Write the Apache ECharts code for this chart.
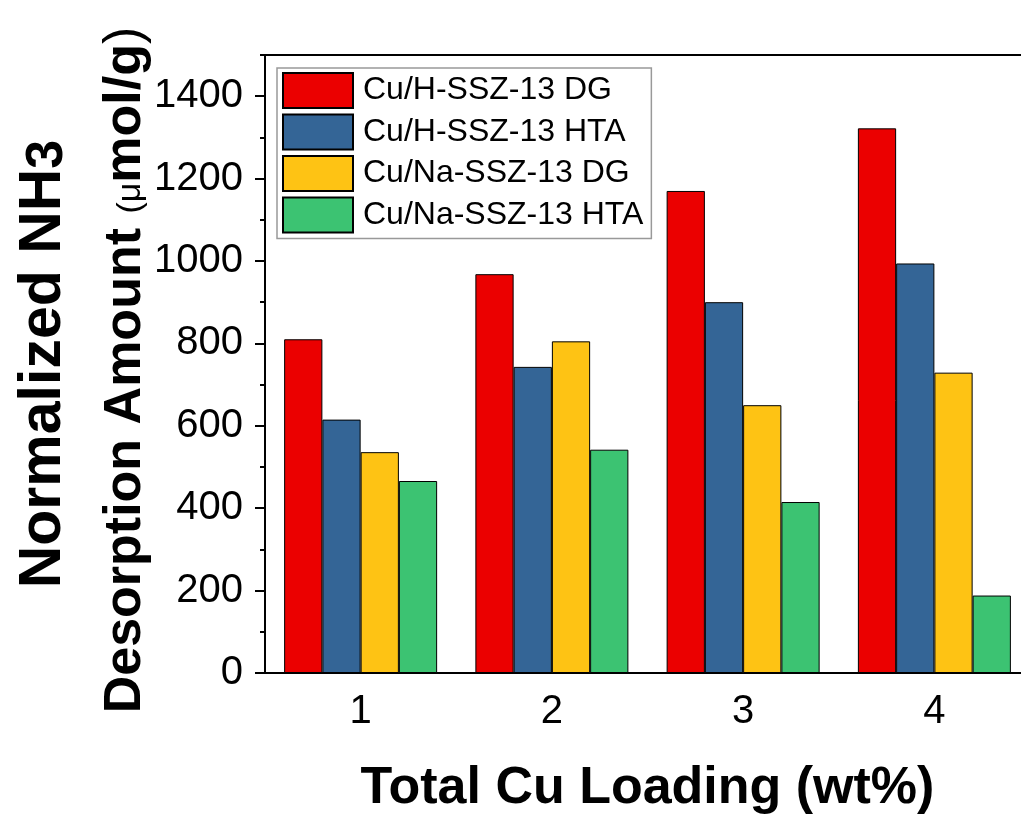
<!DOCTYPE html>
<html>
<head>
<meta charset="utf-8">
<script src="https://cdn.jsdelivr.net/npm/echarts@6/dist/echarts.min.js"></script>
<style>
  html, body { margin: 0; padding: 0; background: #fff; }
  #chart { width: 1021px; height: 814px; }
</style>
</head>
<body>
<div id="chart"></div>
<script>
// Cu loading categories (wt%)
const categories = ['1', '2', '3', '4'];
// Normalized NH3 desorption amount (μmol/g)
const cuH_DG = [810, 968, 1170, 1322];
const cuH_HTA = [615, 743, 900, 994];
const cuNa_DG = [536, 805, 650, 729];
const cuNa_HTA = [466, 542, 415, 188];
const seriesNames = ['Cu/H-SSZ-13 DG', 'Cu/H-SSZ-13 HTA', 'Cu/Na-SSZ-13 DG', 'Cu/Na-SSZ-13 HTA'];
const majorTicks = [0, 200, 400, 600, 800, 1000, 1200, 1400];

const colors = ['#EB0000', '#346596', '#FEC314', '#3CC372'];
const FONT = '"Liberation Sans", Arial, sans-serif';

const chart = echarts.init(document.getElementById('chart'), null, { renderer: 'canvas' });

function barSeries(name, data, color) {
  return {
    name: name,
    type: 'bar',
    data: data,
    xAxisIndex: 0,
    yAxisIndex: 0,
    barGap: '0%',
    barCategoryGap: '20%',
    itemStyle: { color: color, borderColor: '#000', borderWidth: 1 },
    emphasis: { disabled: true }
  };
}

chart.setOption({
  animation: false,
  backgroundColor: '#fff',
  textStyle: { fontFamily: FONT },
  grid: {
    left: 265, top: 55, bottom: 141, right: -9,
    outerBoundsMode: 'none',
    containLabel: false,
    show: true, borderColor: '#000', borderWidth: 2, backgroundColor: 'transparent'
  },
  legend: {
    orient: 'vertical',
    left: 277, top: 68,
    icon: 'rect',
    itemWidth: 70, itemHeight: 35, itemGap: 4.5,
    padding: [4, 8, 5, 5],
    borderColor: '#999', borderWidth: 1.5,
    selectedMode: false,
    textStyle: { fontSize: 32, color: '#000', fontFamily: FONT, padding: [0, 0, 0, 5] },
    data: seriesNames
  },
  xAxis: [
    {
      type: 'category',
      data: categories,
      axisLine: { lineStyle: { color: '#000', width: 2 } },
      axisTick: { alignWithLabel: true, length: 10, lineStyle: { color: '#000', width: 2 } },
      axisLabel: { fontSize: 40, color: '#000', margin: 19, fontFamily: FONT },
      name: 'Total Cu Loading (wt%)',
      nameLocation: 'middle',
      nameGap: 90,
      nameTextStyle: { fontSize: 52, fontWeight: 'bold', color: '#000', fontFamily: FONT }
    },
    {
      type: 'category',
      data: categories,
      position: 'bottom',
      axisLine: { show: false },
      axisTick: { length: 5, lineStyle: { color: '#000', width: 2 } },
      axisLabel: { show: false }
    }
  ],
  yAxis: [
    {
      type: 'value',
      min: 0, max: 1500, interval: 100,
      splitLine: { show: false },
      axisLine: { show: true, lineStyle: { color: '#000', width: 2 } },
      axisTick: { show: true, length: 5, lineStyle: { color: '#000', width: 2 } },
      axisLabel: {
        fontSize: 40, color: '#000', margin: 22, fontFamily: FONT,
        formatter: v => (majorTicks.indexOf(v) >= 0 ? String(v) : '')
      }
    },
    {
      type: 'value',
      position: 'left',
      min: 0, max: 1500, interval: 100,
      splitLine: { show: false },
      axisLine: { show: false },
      axisTick: { show: true, length: 10, customValues: majorTicks, lineStyle: { color: '#000', width: 2 } },
      axisLabel: { show: false }
    }
  ],
  graphic: [
    {
      type: 'text',
      x: 44, y: 364,
      rotation: Math.PI / 2,
      style: {
        text: '{b|Normalized NH}{s|3}',
        align: 'center', verticalAlign: 'middle',
        rich: {
          b: { fontSize: 59, fontWeight: 'bold', fontFamily: FONT, fill: '#000' },
          s: { fontSize: 52, fontWeight: 'bold', fontFamily: FONT, fill: '#000', padding: [8, 0, 0, 0] }
        }
      }
    },
    {
      type: 'text',
      x: 126, y: 370,
      rotation: Math.PI / 2,
      style: {
        text: '{b|Desorption Amount }{r|(μ}{b|mol/g}{p|)}',
        align: 'center', verticalAlign: 'middle',
        rich: {
          b: { fontSize: 52, fontWeight: 'bold', fontFamily: FONT, fill: '#000' },
          r: { fontSize: 34, fontFamily: FONT, fill: '#000', padding: [10, 0, 0, 0] },
          p: { fontSize: 52, fontFamily: FONT, fill: '#000' }
        }
      }
    }
  ],
  series: [
    barSeries(seriesNames[0], cuH_DG, colors[0]),
    barSeries(seriesNames[1], cuH_HTA, colors[1]),
    barSeries(seriesNames[2], cuNa_DG, colors[2]),
    barSeries(seriesNames[3], cuNa_HTA, colors[3])
  ]
});
</script>
</body>
</html>
